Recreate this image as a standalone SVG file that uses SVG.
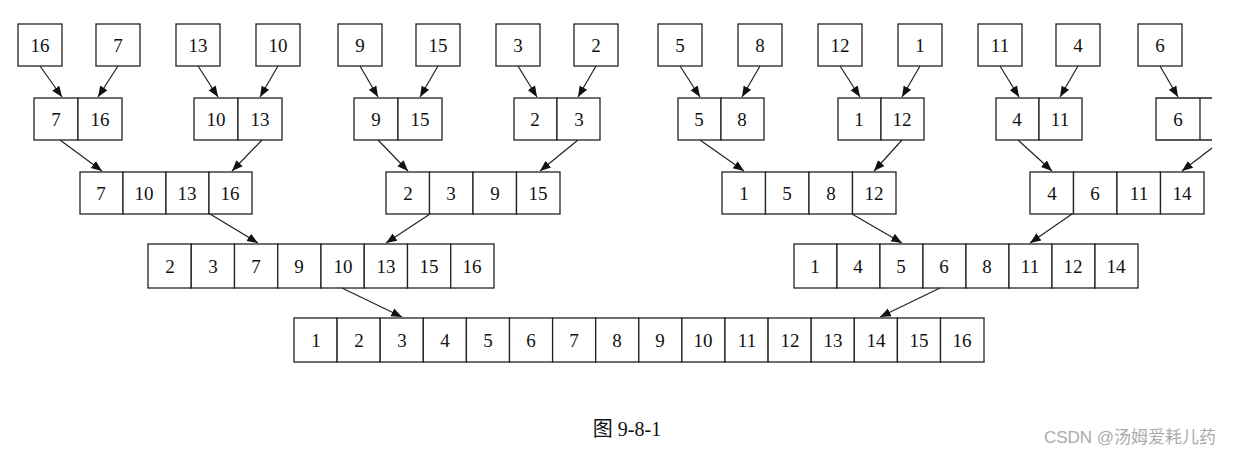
<svg xmlns="http://www.w3.org/2000/svg" width="1240" height="456" viewBox="0 0 1240 456">
<defs><marker id="a" viewBox="0 0 10 10" refX="10" refY="5" markerWidth="9" markerHeight="9" orient="auto"><path d="M0,1 L10,5 L0,9 z" fill="#111"/></marker>
<style>rect{fill:#fff;stroke:#222;stroke-width:1.3}text{font-family:"Liberation Serif",serif;font-size:19px;text-anchor:middle;fill:#111}line{stroke:#222;stroke-width:1.2;marker-end:url(#a)}</style></defs>
<rect x="0" y="0" width="1240" height="456" style="stroke:none"/>
<g id="r1">
<rect x="18" y="24" width="44" height="42"/><text x="40" y="52">16</text>
<rect x="96" y="24" width="44" height="42"/><text x="118" y="52">7</text>
<rect x="176" y="24" width="44" height="42"/><text x="198" y="52">13</text>
<rect x="256" y="24" width="44" height="42"/><text x="278" y="52">10</text>
<rect x="338" y="24" width="44" height="42"/><text x="360" y="52">9</text>
<rect x="416" y="24" width="44" height="42"/><text x="438" y="52">15</text>
<rect x="496" y="24" width="44" height="42"/><text x="518" y="52">3</text>
<rect x="574" y="24" width="44" height="42"/><text x="596" y="52">2</text>
<rect x="658" y="24" width="44" height="42"/><text x="680" y="52">5</text>
<rect x="738" y="24" width="44" height="42"/><text x="760" y="52">8</text>
<rect x="818" y="24" width="44" height="42"/><text x="840" y="52">12</text>
<rect x="898" y="24" width="44" height="42"/><text x="920" y="52">1</text>
<rect x="978" y="24" width="44" height="42"/><text x="1000" y="52">11</text>
<rect x="1056" y="24" width="44" height="42"/><text x="1078" y="52">4</text>
<rect x="1138" y="24" width="44" height="42"/><text x="1160" y="52">6</text>
</g>
<g id="r2">
<rect x="34" y="98" width="44" height="42"/><rect x="78" y="98" width="44" height="42"/><text x="56" y="126">7</text><text x="100" y="126">16</text>
<rect x="194" y="98" width="44" height="42"/><rect x="238" y="98" width="44" height="42"/><text x="216" y="126">10</text><text x="260" y="126">13</text>
<rect x="354" y="98" width="44" height="42"/><rect x="398" y="98" width="44" height="42"/><text x="376" y="126">9</text><text x="420" y="126">15</text>
<rect x="514" y="98" width="43" height="42"/><rect x="557" y="98" width="43" height="42"/><text x="535" y="126">2</text><text x="579" y="126">3</text>
<rect x="678" y="98" width="43" height="42"/><rect x="721" y="98" width="43" height="42"/><text x="699" y="126">5</text><text x="742" y="126">8</text>
<rect x="838" y="98" width="43" height="42"/><rect x="881" y="98" width="43" height="42"/><text x="859" y="126">1</text><text x="902" y="126">12</text>
<rect x="996" y="98" width="43" height="42"/><rect x="1039" y="98" width="43" height="42"/><text x="1017" y="126">4</text><text x="1060" y="126">11</text>
<path d="M1212,98 H1156 V140 H1212 M1200,98 V140" fill="none" stroke="#222" stroke-width="1.3"/><text x="1178" y="126">6</text>
</g>
<g id="r3">
<rect x="80" y="172" width="43" height="42"/><rect x="123" y="172" width="43" height="42"/><rect x="166" y="172" width="43" height="42"/><rect x="209" y="172" width="43" height="42"/>
<text x="101" y="200">7</text><text x="144" y="200">10</text><text x="187" y="200">13</text><text x="230" y="200">16</text>
<rect x="386" y="172" width="43.5" height="42"/><rect x="429.5" y="172" width="43.5" height="42"/><rect x="473" y="172" width="43.5" height="42"/><rect x="516.5" y="172" width="43.5" height="42"/>
<text x="408" y="200">2</text><text x="451" y="200">3</text><text x="495" y="200">9</text><text x="538" y="200">15</text>
<rect x="722" y="172" width="43.5" height="42"/><rect x="765.5" y="172" width="43.5" height="42"/><rect x="809" y="172" width="43.5" height="42"/><rect x="852.5" y="172" width="43.5" height="42"/>
<text x="744" y="200">1</text><text x="787" y="200">5</text><text x="831" y="200">8</text><text x="874" y="200">12</text>
<rect x="1030" y="172" width="43.5" height="42"/><rect x="1073.5" y="172" width="43.5" height="42"/><rect x="1117" y="172" width="43.5" height="42"/><rect x="1160.5" y="172" width="43.5" height="42"/>
<text x="1052" y="200">4</text><text x="1095" y="200">6</text><text x="1139" y="200">11</text><text x="1182" y="200">14</text>
</g>
<g id="r4">
<rect x="148" y="244" width="43.25" height="44"/><rect x="191.25" y="244" width="43.25" height="44"/><rect x="234.5" y="244" width="43.25" height="44"/><rect x="277.75" y="244" width="43.25" height="44"/><rect x="321" y="244" width="43.25" height="44"/><rect x="364.25" y="244" width="43.25" height="44"/><rect x="407.5" y="244" width="43.25" height="44"/><rect x="450.75" y="244" width="43.25" height="44"/>
<text x="170" y="273">2</text><text x="213" y="273">3</text><text x="256" y="273">7</text><text x="299" y="273">9</text><text x="343" y="273">10</text><text x="386" y="273">13</text><text x="429" y="273">15</text><text x="472" y="273">16</text>
<rect x="794" y="244" width="43" height="44"/><rect x="837" y="244" width="43" height="44"/><rect x="880" y="244" width="43" height="44"/><rect x="923" y="244" width="43" height="44"/><rect x="966" y="244" width="43" height="44"/><rect x="1009" y="244" width="43" height="44"/><rect x="1052" y="244" width="43" height="44"/><rect x="1095" y="244" width="43" height="44"/>
<text x="815" y="273">1</text><text x="858" y="273">4</text><text x="901" y="273">5</text><text x="944" y="273">6</text><text x="987" y="273">8</text><text x="1030" y="273">11</text><text x="1073" y="273">12</text><text x="1116" y="273">14</text>
</g>
<g id="r5">
<rect x="294" y="318" width="43.1" height="44"/><rect x="337.1" y="318" width="43.1" height="44"/><rect x="380.2" y="318" width="43.1" height="44"/><rect x="423.3" y="318" width="43.1" height="44"/><rect x="466.4" y="318" width="43.1" height="44"/><rect x="509.5" y="318" width="43.1" height="44"/><rect x="552.6" y="318" width="43.1" height="44"/><rect x="595.7" y="318" width="43.1" height="44"/><rect x="638.8" y="318" width="43.1" height="44"/><rect x="681.9" y="318" width="43.1" height="44"/><rect x="725" y="318" width="43.1" height="44"/><rect x="768.1" y="318" width="43.1" height="44"/><rect x="811.2" y="318" width="43.1" height="44"/><rect x="854.3" y="318" width="43.1" height="44"/><rect x="897.4" y="318" width="43.1" height="44"/><rect x="940.5" y="318" width="43.5" height="44"/>
<text x="316" y="347">1</text><text x="359" y="347">2</text><text x="402" y="347">3</text><text x="445" y="347">4</text><text x="488" y="347">5</text><text x="531" y="347">6</text><text x="574" y="347">7</text><text x="617" y="347">8</text><text x="660" y="347">9</text><text x="703" y="347">10</text><text x="747" y="347">11</text><text x="790" y="347">12</text><text x="833" y="347">13</text><text x="876" y="347">14</text><text x="919" y="347">15</text><text x="962" y="347">16</text>
</g>
<g id="connectors">
<line x1="40" y1="66" x2="62" y2="97"/><line x1="118" y1="66" x2="98" y2="97"/>
<line x1="198" y1="66" x2="218" y2="97"/><line x1="278" y1="66" x2="260" y2="97"/>
<line x1="360" y1="66" x2="378" y2="97"/><line x1="438" y1="66" x2="420" y2="97"/>
<line x1="518" y1="66" x2="537" y2="97"/><line x1="596" y1="66" x2="578" y2="97"/>
<line x1="680" y1="66" x2="700" y2="97"/><line x1="760" y1="66" x2="742" y2="97"/>
<line x1="840" y1="66" x2="860" y2="97"/><line x1="920" y1="66" x2="902" y2="97"/>
<line x1="1000" y1="66" x2="1019" y2="97"/><line x1="1078" y1="66" x2="1060" y2="97"/>
<line x1="1160" y1="66" x2="1178" y2="97"/>
<line x1="60" y1="140" x2="102" y2="171"/><line x1="262" y1="140" x2="232" y2="171"/>
<line x1="378" y1="140" x2="408" y2="171"/><line x1="578" y1="140" x2="540" y2="171"/>
<line x1="700" y1="140" x2="744" y2="171"/><line x1="902" y1="140" x2="874" y2="171"/>
<line x1="1018" y1="140" x2="1052" y2="171"/><line x1="1212" y1="148" x2="1182" y2="171"/>
<line x1="210" y1="214" x2="258" y2="243"/><line x1="430" y1="214" x2="386" y2="243"/>
<line x1="852" y1="214" x2="902" y2="243"/><line x1="1072" y1="214" x2="1030" y2="243"/>
<line x1="342" y1="288" x2="402" y2="317"/><line x1="940" y1="288" x2="880" y2="317"/>
</g>
<text x="627" y="436" style="font-size:20px;font-family:'Liberation Serif','Noto Sans CJK SC',serif">图 9-8-1</text>
<text x="1130" y="443" style="font-size:17px;fill:#aaa;font-family:'Liberation Sans','Noto Sans CJK SC',sans-serif">CSDN @汤姆爱耗儿药</text>
</svg>
